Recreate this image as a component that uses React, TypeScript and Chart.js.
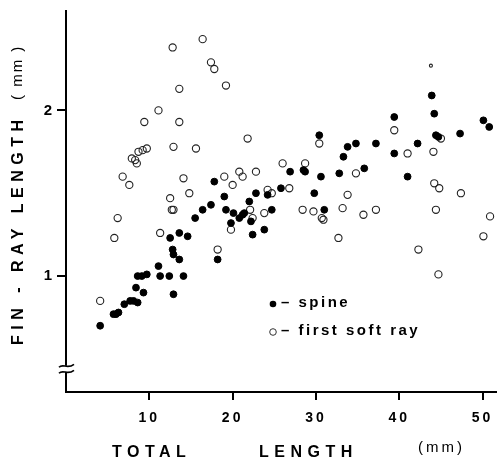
import React, { useEffect, useRef } from "react";
import { Chart, registerables } from "chart.js";

Chart.register(...registerables);

// Total length (mm) and fin-ray length (mm) for the spine
const spineLength = [4.1, 5.7, 6.0, 6.3, 7.0, 7.7, 8.1, 8.6, 8.4, 9.3, 8.6, 9.1, 9.7, 11.1, 11.3, 12.4, 12.9, 14.1, 12.5, 12.8, 12.9, 13.6, 14.6, 13.6, 15.5, 16.4, 17.8, 19.0, 17.4, 18.2, 19.2, 20.1, 19.8, 20.8, 21.2, 21.4, 22.0, 22.8, 22.2, 22.4, 23.8, 24.7, 24.2, 25.8, 30.4, 33.8, 34.8, 37.2, 33.3, 26.9, 28.5, 28.7, 30.6, 32.8, 35.8, 29.8, 31.0, 43.9, 39.4, 44.2, 50.1, 50.8, 44.4, 44.7, 47.3, 42.2, 39.4, 41.0];
const spineFin = [0.70, 0.77, 0.77, 0.78, 0.83, 0.85, 0.85, 0.84, 0.93, 0.90, 1.00, 1.00, 1.01, 1.06, 1.00, 1.00, 0.89, 1.00, 1.23, 1.16, 1.13, 1.26, 1.24, 1.10, 1.35, 1.40, 1.57, 1.48, 1.43, 1.10, 1.40, 1.38, 1.32, 1.35, 1.37, 1.38, 1.45, 1.50, 1.33, 1.25, 1.28, 1.40, 1.49, 1.53, 1.85, 1.78, 1.80, 1.80, 1.72, 1.63, 1.64, 1.63, 1.60, 1.62, 1.65, 1.50, 1.40, 2.09, 1.96, 1.98, 1.94, 1.90, 1.85, 1.84, 1.86, 1.80, 1.74, 1.60];

// Total length (mm) and fin-ray length (mm) for the first soft ray
const softLength = [16.4, 12.8, 13.6, 11.1, 9.4, 13.6, 12.9, 15.6, 8.7, 9.2, 9.7, 7.9, 8.3, 8.5, 6.8, 7.6, 14.1, 14.8, 12.5, 12.7, 12.9, 6.2, 5.8, 11.3, 4.1, 17.4, 17.8, 19.2, 21.8, 30.4, 26.0, 28.7, 20.8, 21.2, 19.0, 22.8, 20.0, 26.8, 24.2, 24.7, 33.2, 22.1, 22.4, 23.8, 19.8, 18.2, 28.4, 29.7, 30.7, 30.9, 32.7, 34.8, 33.8, 35.7, 37.2, 39.4, 41.0, 44.1, 45.0, 44.2, 44.8, 47.4, 44.4, 50.9, 50.1, 42.3, 44.7, 43.8];
const softFin = [2.43, 2.38, 2.13, 2.00, 1.93, 1.93, 1.78, 1.77, 1.75, 1.76, 1.77, 1.71, 1.70, 1.68, 1.60, 1.55, 1.59, 1.50, 1.47, 1.40, 1.40, 1.35, 1.23, 1.26, 0.85, 2.29, 2.25, 2.15, 1.83, 1.80, 1.68, 1.68, 1.63, 1.60, 1.60, 1.63, 1.55, 1.53, 1.52, 1.50, 1.41, 1.40, 1.35, 1.38, 1.28, 1.16, 1.40, 1.39, 1.35, 1.34, 1.23, 1.62, 1.49, 1.37, 1.40, 1.88, 1.74, 1.75, 1.83, 1.56, 1.53, 1.50, 1.40, 1.36, 1.24, 1.16, 1.01, 2.27];

const xTicks = [10, 20, 30, 40, 50];
const yTicks = [1, 2];
const seriesLabels = ["spine", "first soft ray"];
const xTitleWords = ["TOTAL", "LENGTH", "(mm)"];
const yTitleParts = ["FIN - RAY LENGTH", "( mm )"];

const FONT = "'Liberation Sans', Arial, Helvetica, sans-serif";

const decorPlugin = {
  id: "decor",
  beforeDraw(chart: any) {
    const ctx = chart.ctx;
    ctx.fillStyle = "#fff";
    ctx.fillRect(0, 0, chart.width, chart.height);
    ctx.letterSpacing = "3px";
  },
  afterDraw(chart: any) {
    const ctx = chart.ctx;
    ctx.save();
    ctx.letterSpacing = "0px";
    const left = chart.chartArea.left;

    // axis break mark
    const yb = chart.scales.y.getPixelForValue(0.44);
    ctx.fillStyle = "#fff";
    ctx.fillRect(left - 3, yb - 3, 6, 6);
    ctx.strokeStyle = "#000";
    ctx.lineWidth = 1.6;
    for (const dy of [-3, 3]) {
      const y = yb + dy;
      ctx.beginPath();
      ctx.moveTo(left - 7, y + 1.5);
      ctx.bezierCurveTo(left - 3, y - 3, left + 1, y + 4, left + 8, y - 1.5);
      ctx.stroke();
    }

    ctx.fillStyle = "#000";
    // X title
    ctx.textBaseline = "middle";
    ctx.textAlign = "left";
    ctx.font = `bold 16px ${FONT}`;
    ctx.letterSpacing = "5.5px";
    ctx.fillText(xTitleWords[0], 112, 453);
    ctx.fillText(xTitleWords[1], 259, 453);
    ctx.font = `15px ${FONT}`;
    ctx.letterSpacing = "3px";
    ctx.fillText(xTitleWords[2], 418, 448);

    // Y title
    ctx.save();
    ctx.translate(19, 345);
    ctx.rotate(-Math.PI / 2);
    ctx.font = `bold 16px ${FONT}`;
    ctx.letterSpacing = "5.5px";
    ctx.fillText(yTitleParts[0], 0, 0);
    ctx.font = `15px ${FONT}`;
    ctx.letterSpacing = "2px";
    ctx.fillText(yTitleParts[1], 245, -1);
    ctx.restore();

    // Legend
    ctx.beginPath();
    ctx.arc(273, 304, 3.3, 0, Math.PI * 2);
    ctx.fill();
    ctx.beginPath();
    ctx.arc(273, 332, 3.3, 0, Math.PI * 2);
    ctx.lineWidth = 1;
    ctx.strokeStyle = "#333";
    ctx.stroke();
    ctx.font = `bold 15px ${FONT}`;
    ctx.letterSpacing = "2.5px";
    ctx.fillText("\u2013 " + seriesLabels[0], 281, 303);
    ctx.fillText("\u2013 " + seriesLabels[1], 281, 331);
    ctx.restore();
  },
};

export default function App() {
  const ref = useRef<HTMLCanvasElement | null>(null);
  useEffect(() => {
    if (!ref.current) return;
    const gridOpts = (len: number) => ({
      display: true,
      drawOnChartArea: false,
      drawTicks: true,
      tickLength: len,
      color: "#000",
      lineWidth: 2,
    });
    const chart = new Chart(ref.current, {
      type: "scatter",
      data: {
        datasets: [
          {
            label: seriesLabels[0],
            data: spineLength.map((x, i) => ({ x, y: spineFin[i] })),
            backgroundColor: "#000",
            borderColor: "#000",
            borderWidth: 1,
            pointRadius: 3.4,
          },
          {
            label: seriesLabels[1],
            data: softLength.map((x, i) => ({ x, y: softFin[i] })),
            backgroundColor: "rgba(0,0,0,0)",
            borderColor: "#222",
            borderWidth: 1.1,
            pointRadius: (c: any) => (c.dataIndex === softLength.length - 1 ? 1.5 : 3.6),
          },
        ],
      },
      options: {
        responsive: false,
        animation: false,
        events: [],
        layout: { padding: { top: 8, right: 0, left: 0, bottom: 0 } },
        plugins: { legend: { display: false }, tooltip: { enabled: false } },
        scales: {
          x: {
            type: "linear",
            min: 0,
            max: 51.6,
            border: { display: true, color: "#000", width: 2 },
            grid: gridOpts(8),
            afterBuildTicks: (s: any) => {
              s.ticks = xTicks.map((v) => ({ value: v }));
            },
            afterFit: (s: any) => {
              s.height = 71;
            },
            ticks: {
              color: "#000",
              font: { family: FONT, size: 14, weight: "bold" },
              padding: 10,
              maxRotation: 0,
              autoSkip: false,
            },
          },
          y: {
            type: "linear",
            min: 0.3,
            max: 2.6,
            border: { display: true, color: "#000", width: 2 },
            grid: gridOpts(9),
            afterBuildTicks: (s: any) => {
              s.ticks = yTicks.map((v) => ({ value: v }));
            },
            afterFit: (s: any) => {
              s.width = 66;
            },
            ticks: {
              color: "#000",
              font: { family: FONT, size: 15, weight: "bold" },
              padding: 2,
            },
          },
        },
      },
      plugins: [decorPlugin],
    } as any);
    return () => chart.destroy();
  }, []);
  return (
    <div style={{ position: "fixed", left: 0, top: 0, width: 501, height: 463, background: "#fff" }}>
      <canvas ref={ref} width={501} height={463} style={{ display: "block" }} />
    </div>
  );
}
